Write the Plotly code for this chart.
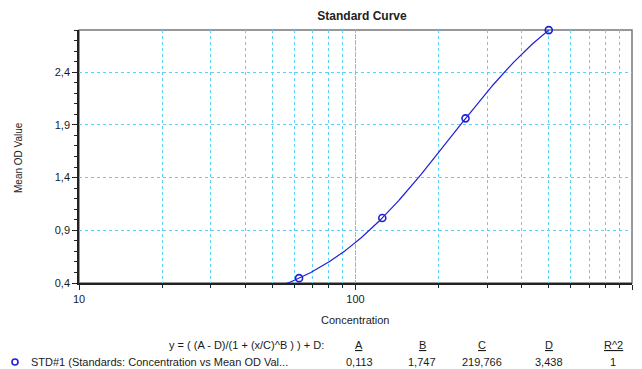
import numpy as np
import plotly.graph_objects as go

# ---- data ----
concentration = [62.5, 125, 250, 500]
mean_od = [0.446, 1.017, 1.962, 2.799]

# 4PL fit parameters shown in the legend table
fit_names = ["A", "B", "C", "D", "R^2"]
fit_values = [0.113, 1.747, 219.766, 3.438, 1]
fit_labels = ["0,113", "1,747", "219,766", "3,438", "1"]

x_major = [10, 100, 1000]
x_minor = [20, 30, 40, 50, 60, 70, 80, 90, 200, 300, 400, 500, 600, 700, 800, 900]
y_major = [0.4, 0.9, 1.4, 1.9, 2.4]

series_name = "STD#1 (Standards: Concentration vs Mean OD Val..."
formula = "y = ( (A - D)/(1 + (x/C)^B ) ) + D:"

# ---- fitted curve from the displayed parameters ----
A, B, C, D = fit_values[:4]
xc = np.logspace(np.log10(50), np.log10(max(concentration)), 200)
yc = (A - D) / (1 + (xc / C) ** B) + D

W, H = 642, 369
L, R, T, Bm = 79, 10, 30, 86
pw, ph = W - L - R, H - T - Bm


def px(x):
    return (x - L) / pw


def py(y):
    return (H - Bm - y) / ph


blue = "#1f1fd6"
grid = "#5fd0f2"
gdash = "dot"
txt = "#1a1a1a"
font = "Liberation Sans, Arial, sans-serif"

fig = go.Figure()
fig.add_trace(go.Scatter(x=xc, y=yc, mode="lines",
                         line=dict(color=blue, width=1.2),
                         hoverinfo="skip", showlegend=False))
fig.add_trace(go.Scatter(x=concentration, y=mean_od, mode="markers",
                         marker=dict(symbol="circle-open", size=7, color=blue,
                                     line=dict(color=blue, width=1.6)),
                         cliponaxis=False, showlegend=False))

fig.update_layout(
    template="none",
    width=W, height=H,
    margin=dict(l=L, r=R, t=T, b=Bm),
    paper_bgcolor="white", plot_bgcolor="white",
    separators=",.",
    font=dict(family=font, size=11, color=txt),
    title=dict(text="<b>Standard Curve</b>", x=px(362), xref="paper",
               xanchor="center", y=1 - 16 / H, yanchor="middle",
               font=dict(size=12, color="#222")),
    xaxis=dict(type="log", range=[1, 3],
               tickmode="array", tickvals=x_major, ticktext=[str(v) for v in x_major],
               ticks="outside", ticklen=5, tickcolor="#222", tickwidth=1,
               showline=True, linecolor="#222", linewidth=1.5,
               showgrid=True, gridcolor=grid, griddash=gdash, gridwidth=1,
               zeroline=False,
               minor=dict(tickmode="array", tickvals=x_minor, ticks="outside",
                          ticklen=3, tickcolor="#222", tickwidth=1, showgrid=True,
                          gridcolor=grid, griddash=gdash, gridwidth=1),
               tickfont=dict(size=11, color=txt)),
    yaxis=dict(range=[0.4, 2.8],
               tickmode="array", tickvals=y_major, tickformat=".1f",
               ticks="outside", ticklen=5, tickcolor="#222", tickwidth=1,
               showline=True, linecolor="#222", linewidth=1.5,
               showgrid=True, gridcolor=grid, griddash=gdash, gridwidth=1,
               zeroline=False,
               minor=dict(tick0=0.4, dtick=0.1, ticks="outside", ticklen=3,
                          tickcolor="#222", tickwidth=1, showgrid=False),
               tickfont=dict(size=11, color=txt)),
    shapes=[dict(type="rect", xref="paper", yref="paper", x0=0, x1=1, y0=0, y1=1,
                 line=dict(color="#777", width=1.5), layer="below"),
            dict(type="circle", xref="paper", yref="paper",
                 xsizemode="pixel", ysizemode="pixel",
                 xanchor=px(15), yanchor=py(362), x0=-3, x1=3, y0=-3, y1=3,
                 line=dict(color=blue, width=1.6))],
)
# interior major (decade) grid line
for v in x_major[1:-1]:
    fig.add_shape(type="line", xref="x", yref="paper", x0=v, x1=v, y0=0, y1=1,
                  line=dict(color=grid, width=1, dash=gdash), layer="below")

ann = []
ann.append(dict(text="Concentration", x=px(355), y=py(320), xref="paper", yref="paper",
                showarrow=False, xanchor="center", yanchor="middle",
                font=dict(size=11, color=txt)))
ann.append(dict(text="Mean OD Value", x=px(18), y=py(158), xref="paper", yref="paper",
                showarrow=False, xanchor="center", yanchor="middle", textangle=-90,
                font=dict(size=10, color=txt)))
ann.append(dict(text=formula, x=px(326), y=py(345), xref="paper", yref="paper",
                showarrow=False, xanchor="right", yanchor="middle",
                font=dict(size=11, color=txt)))
ann.append(dict(text=series_name, x=px(29), y=py(362), xref="paper", yref="paper",
                showarrow=False, xanchor="left", yanchor="middle",
                font=dict(size=11, color=txt)))
col_x = [359, 422, 482, 549, 613]
for name, lab, cx in zip(fit_names, fit_labels, col_x):
    ann.append(dict(text=f"<u>{name}</u>", x=px(cx), y=py(345), xref="paper", yref="paper",
                    showarrow=False, xanchor="center", yanchor="middle",
                    font=dict(size=11, color=txt)))
    ann.append(dict(text=lab, x=px(cx), y=py(362), xref="paper", yref="paper",
                    showarrow=False, xanchor="center", yanchor="middle",
                    font=dict(size=11, color=txt)))
fig.update_layout(annotations=ann)

fig.write_html("out.html", config={"displayModeBar": False},
               post_script="document.body.style.margin='0';document.body.style.padding='0';")
